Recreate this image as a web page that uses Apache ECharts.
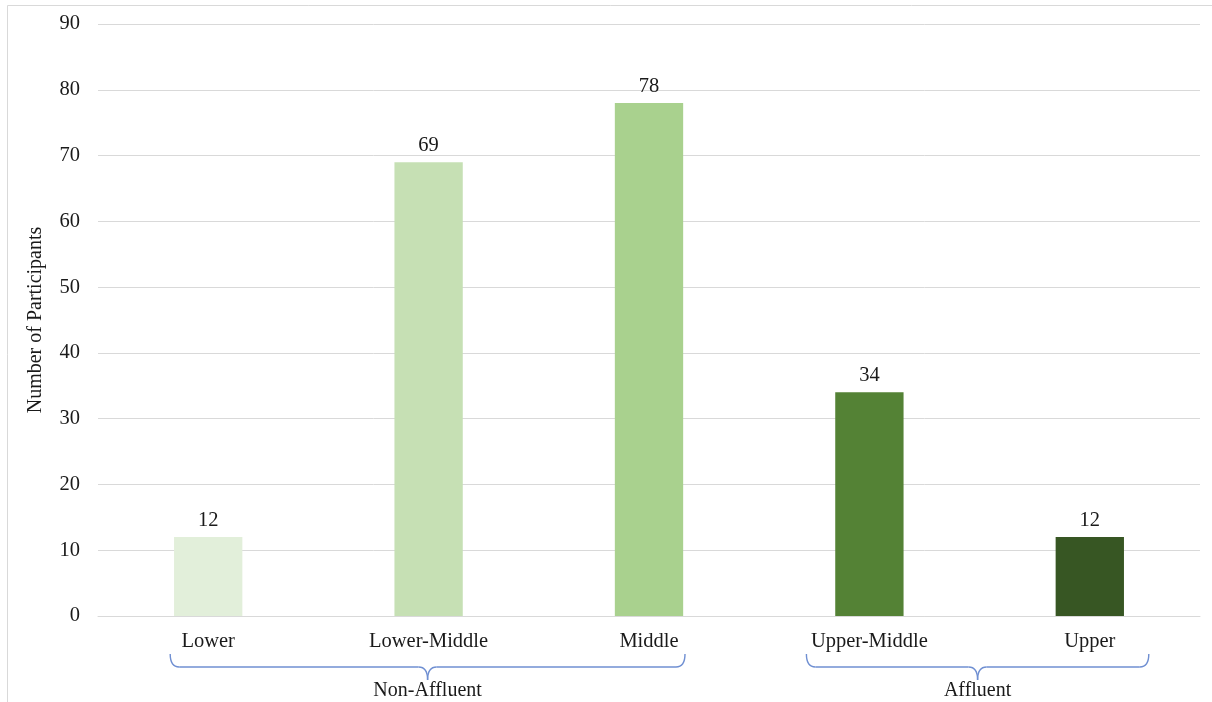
<!DOCTYPE html>
<html>
<head>
<meta charset="utf-8">
<script src="https://cdn.jsdelivr.net/npm/echarts@6/dist/echarts.min.js"></script>
<style>
html,body{margin:0;padding:0;background:#fff;}
#chart{width:1212px;height:702px;}
</style>
</head>
<body>
<div id="chart"></div>
<script>
const categories = ['Lower', 'Lower-Middle', 'Middle', 'Upper-Middle', 'Upper'];
const participants = [12, 69, 78, 34, 12];
const barColors = ['#E2EFDA', '#C6E0B4', '#A9D18E', '#548235', '#375623'];
const yTicks = [0, 10, 20, 30, 40, 50, 60, 70, 80, 90];
const groups = [
  { name: 'Non-Affluent', from: 0, to: 2, padLeft: 38, padRight: 36 },
  { name: 'Affluent', from: 3, to: 4, padLeft: 63, padRight: 59 }
];

const FONT = '"Liberation Serif", "Times New Roman", serif';
const chart = echarts.init(document.getElementById('chart'), null, { renderer: 'canvas' });

const option = {
  backgroundColor: '#ffffff',
  animation: false,
  grid: { left: 98, right: 12, top: 24, bottom: 86, containLabel: false },
  xAxis: {
    type: 'category',
    data: categories,
    axisLine: { show: true, lineStyle: { color: '#d9d9d9', width: 1 } },
    axisTick: { show: false },
    axisLabel: { color: '#1a1a1a', fontFamily: FONT, fontSize: 20.5, margin: 15 }
  },
  yAxis: {
    type: 'value',
    min: yTicks[0],
    max: yTicks[yTicks.length - 1],
    interval: yTicks[1] - yTicks[0],
    name: 'Number of Participants',
    nameLocation: 'middle',
    nameGap: 52,
    nameRotate: 90,
    nameTextStyle: { color: '#1a1a1a', fontFamily: FONT, fontSize: 20 },
    axisLine: { show: false },
    axisTick: { show: false },
    axisLabel: { color: '#1a1a1a', fontFamily: FONT, fontSize: 20.5, margin: 18, padding: [4, 0, 0, 0] },
    splitLine: { lineStyle: { color: '#d9d9d9', width: 1 } }
  },
  series: [{
    type: 'bar',
    data: participants.map((v, i) => ({ value: v, itemStyle: { color: barColors[i] } })),
    barWidth: '31%',
    label: {
      show: true,
      position: 'top',
      distance: 6,
      color: '#1a1a1a',
      fontFamily: FONT,
      fontSize: 20.5
    }
  }]
};
chart.setOption(option);

// Group braces below the axis labels, positioned via the category axis
const braceColor = '#6f8fd2';
const yLine = 667, yEnd = 654, yTip = 680, r = 9;
const graphics = [{
  type: 'rect',
  shape: { x: 7.5, y: 5.5, width: 1300, height: 800 },
  style: { fill: null, stroke: '#d9d9d9', lineWidth: 1 },
  silent: true
}];
const braceStyle = { fill: null, stroke: braceColor, lineWidth: 1.4 };
groups.forEach(g => {
  const x1 = chart.convertToPixel({ xAxisIndex: 0 }, categories[g.from]) - g.padLeft;
  const x2 = chart.convertToPixel({ xAxisIndex: 0 }, categories[g.to]) + g.padRight;
  const xm = (x1 + x2) / 2;
  const curves = [
    { x1: x1, y1: yEnd, cpx1: x1, cpy1: yLine, x2: x1 + r, y2: yLine },
    { x1: xm - r, y1: yLine, cpx1: xm, cpy1: yLine, x2: xm, y2: yTip },
    { x1: xm, y1: yTip, cpx1: xm, cpy1: yLine, x2: xm + r, y2: yLine },
    { x1: x2 - r, y1: yLine, cpx1: x2, cpy1: yLine, x2: x2, y2: yEnd }
  ];
  curves.forEach(s => graphics.push({ type: 'bezierCurve', shape: s, style: braceStyle, silent: true }));
  graphics.push({ type: 'line', shape: { x1: x1 + r, y1: yLine, x2: xm - r, y2: yLine }, style: braceStyle, silent: true });
  graphics.push({ type: 'line', shape: { x1: xm + r, y1: yLine, x2: x2 - r, y2: yLine }, style: braceStyle, silent: true });
  graphics.push({
    type: 'text',
    x: xm, y: 691,
    style: { text: g.name, fill: '#1a1a1a', font: '20px ' + FONT, textAlign: 'center', textVerticalAlign: 'middle' },
    silent: true
  });
});
chart.setOption({ graphic: graphics });
</script>
</body>
</html>
